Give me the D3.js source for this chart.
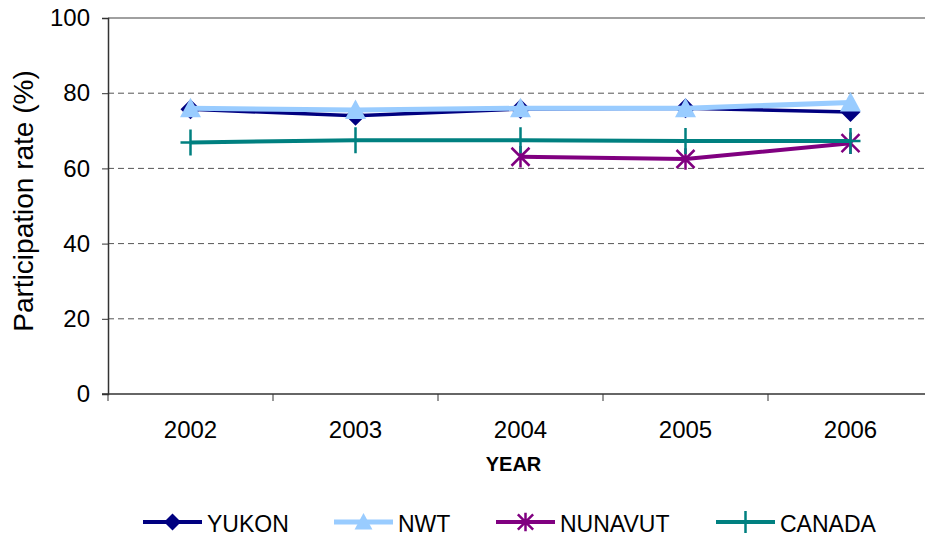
<!DOCTYPE html>
<html><head><meta charset="utf-8">
<script src="https://cdn.jsdelivr.net/npm/d3@7"></script>
<style>body{margin:0;background:#fff}svg{display:block}text{font-family:"Liberation Sans",Arial,sans-serif}</style>
</head><body>
<svg id="c" width="925" height="541"></svg>
<script>
const years = ["2002","2003","2004","2005","2006"];
const yukon = [75.7, 74.0, 75.8, 76.0, 75.0];
const nwt = [76.0, 75.5, 76.0, 76.0, 77.5];
const nunavut = [null, null, 63.1, 62.5, 66.7];
const canada = [66.9, 67.5, 67.5, 67.3, 67.3];
const yTicks = [0, 20, 40, 60, 80, 100];
const seriesNames = ["YUKON","NWT","NUNAVUT","CANADA"];

const series = [
  {name:"YUKON", values:yukon, color:"#000080", width:3.5, marker:"diamond"},
  {name:"NWT", values:nwt, color:"#99CCFF", width:5, marker:"triangle"},
  {name:"NUNAVUT", values:nunavut, color:"#800080", width:4, marker:"star"},
  {name:"CANADA", values:canada, color:"#008080", width:4, marker:"plus"}
];

const svg = d3.select("#c");
const L = 108, T = 18, B = 394, R = 933;
const x = d3.scaleBand().domain(years).range([L, R]);
const y = d3.scaleLinear().domain([0,100]).range([B, T]);

svg.append("clipPath").attr("id","cp").append("rect").attr("x",0).attr("y",0).attr("width",925).attr("height",541);

// gridlines
svg.append("g").selectAll("line").data(yTicks.filter(d=>d>0 && d<100)).join("line")
  .attr("x1",L).attr("x2",R).attr("y1",d=>y(d)).attr("y2",d=>y(d))
  .attr("stroke","#555").attr("stroke-width",1).attr("stroke-dasharray","6,4");
// top border
svg.append("line").attr("x1",L).attr("x2",R).attr("y1",y(100)).attr("y2",y(100)).attr("stroke","#808080").attr("stroke-width",1.5);

// y axis
const ya = svg.append("g").attr("transform",`translate(${L},0)`)
  .call(d3.axisLeft(y).tickValues(yTicks).tickSize(6).tickPadding(12));
ya.select(".domain").attr("stroke","#333").attr("stroke-width",1.5);
ya.selectAll(".tick line").attr("stroke","#333");
ya.selectAll("text").attr("font-size",24).attr("fill","#000").attr("font-family","Liberation Sans, Arial, sans-serif");

// x axis
const xa = svg.append("g").attr("transform",`translate(0,${B})`)
  .call(d3.axisBottom(x).tickSize(0).tickPadding(27));
xa.select(".domain").remove();
xa.selectAll("text").attr("font-size",24).attr("fill","#000").attr("font-family","Liberation Sans, Arial, sans-serif");
svg.append("line").attr("x1",L-6).attr("x2",R).attr("y1",B).attr("y2",B).attr("stroke","#333").attr("stroke-width",1.5);
svg.append("g").selectAll("line").data(d3.range(years.length+1)).join("line")
  .attr("x1",i=>L+i*x.step()).attr("x2",i=>L+i*x.step())
  .attr("y1",B).attr("y2",B+7).attr("stroke","#333").attr("stroke-width",1);

// axis titles
svg.append("text").attr("transform",`translate(33,${(T+B)/2-5}) rotate(-90)`)
  .attr("text-anchor","middle").attr("font-size",28).text("Participation rate (%)");
svg.append("text").attr("x",513.5).attr("y",471).attr("text-anchor","middle")
  .attr("font-size",20).attr("font-weight","bold").text("YEAR");

function drawMarker(g, type, cx, cy, color, scale){
  scale = scale||1;
  if(type==="diamond"){
    const s=10*scale;
    g.append("path").attr("d",`M${cx},${cy-s}L${cx+s},${cy}L${cx},${cy+s}L${cx-s},${cy}Z`).attr("fill",color);
  } else if(type==="triangle"){
    const s=10.5*scale;
    g.append("path").attr("d",`M${cx},${cy-s}L${cx+s},${cy+s*0.85}L${cx-s},${cy+s*0.85}Z`).attr("fill",color);
  } else if(type==="star"){
    const s=9*scale;
    const p = `M${cx-s},${cy-s}L${cx+s},${cy+s}M${cx-s},${cy+s}L${cx+s},${cy-s}M${cx},${cy-s*1.2}L${cx},${cy+s*1.2}`;
    g.append("path").attr("d",p).attr("stroke",color).attr("stroke-width",2.5).attr("fill","none");
  } else if(type==="plus"){
    const s=10*scale;
    g.append("path").attr("d",`M${cx-s},${cy}L${cx+s},${cy}M${cx},${cy-s*1.3}L${cx},${cy+s*1.3}`)
      .attr("stroke",color).attr("stroke-width",2.5).attr("fill","none");
  }
}

const plot = svg.append("g").attr("clip-path","url(#cp)");
const line = d3.line().defined(d=>d.v!=null).x(d=>x(d.k)+x.bandwidth()/2).y(d=>y(d.v));
series.forEach(s=>{
  const data = years.map((k,i)=>({k, v:s.values[i]}));
  plot.append("path").datum(data).attr("d",line).attr("fill","none")
    .attr("stroke",s.color).attr("stroke-width",s.width).attr("stroke-linejoin","round");
  data.filter(d=>d.v!=null).forEach(d=>drawMarker(plot, s.marker, x(d.k)+x.bandwidth()/2, y(d.v), s.color));
});

// legend
const legX = [143, 334, 496, 716];
const lg = svg.append("g");
series.forEach((s,i)=>{
  const x0 = legX[i], ly = 522;
  lg.append("line").attr("x1",x0).attr("x2",x0+59).attr("y1",ly).attr("y2",ly)
    .attr("stroke",s.color).attr("stroke-width",Math.max(4,s.width));
  drawMarker(lg, s.marker, x0+29.5, ly, s.color, 0.85);
  lg.append("text").attr("x",x0+64).attr("y",532).attr("font-size",23).text(seriesNames[i]);
});
</script>
</body></html>
